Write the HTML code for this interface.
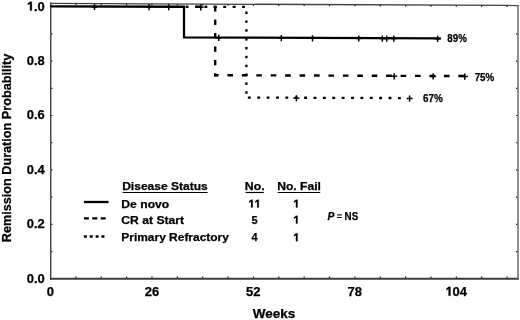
<!DOCTYPE html>
<html><head><meta charset="utf-8"><style>
html,body{margin:0;padding:0;background:#fff;width:520px;height:320px;overflow:hidden;}
svg{display:block;filter:grayscale(1);}
text{font-family:"Liberation Sans", sans-serif;font-weight:bold;fill:#000;stroke:#000;stroke-width:0.25px;}
</style></head><body>
<svg width="520" height="320" viewBox="0 0 520 320">
<line x1="50.70" y1="2.60" x2="50.70" y2="279.60" stroke="#4a4a4a" stroke-width="1.5"/>
<line x1="49.95" y1="278.85" x2="518.80" y2="278.85" stroke="#3c3c3c" stroke-width="2.0"/>
<line x1="50.00" y1="3.40" x2="518.80" y2="5.46" stroke="#404040" stroke-width="1.35"/>
<line x1="518.00" y1="4.96" x2="518.00" y2="279.60" stroke="#6a6a6a" stroke-width="1.5"/>
<line x1="75.86" y1="278.00" x2="75.86" y2="276.60" stroke="#222" stroke-width="1.2"/>
<line x1="75.86" y1="3.51" x2="75.86" y2="5.11" stroke="#222" stroke-width="1.2"/>
<line x1="101.23" y1="278.00" x2="101.23" y2="276.60" stroke="#222" stroke-width="1.2"/>
<line x1="101.23" y1="3.63" x2="101.23" y2="5.23" stroke="#222" stroke-width="1.2"/>
<line x1="126.59" y1="278.00" x2="126.59" y2="276.60" stroke="#222" stroke-width="1.2"/>
<line x1="126.59" y1="3.74" x2="126.59" y2="5.34" stroke="#222" stroke-width="1.2"/>
<line x1="151.96" y1="278.00" x2="151.96" y2="276.60" stroke="#222" stroke-width="1.2"/>
<line x1="151.96" y1="3.85" x2="151.96" y2="5.45" stroke="#222" stroke-width="1.2"/>
<line x1="177.32" y1="278.00" x2="177.32" y2="276.60" stroke="#222" stroke-width="1.2"/>
<line x1="177.32" y1="3.96" x2="177.32" y2="5.56" stroke="#222" stroke-width="1.2"/>
<line x1="202.69" y1="278.00" x2="202.69" y2="276.60" stroke="#222" stroke-width="1.2"/>
<line x1="202.69" y1="4.07" x2="202.69" y2="5.67" stroke="#222" stroke-width="1.2"/>
<line x1="228.05" y1="278.00" x2="228.05" y2="276.60" stroke="#222" stroke-width="1.2"/>
<line x1="228.05" y1="4.18" x2="228.05" y2="5.78" stroke="#222" stroke-width="1.2"/>
<line x1="253.42" y1="278.00" x2="253.42" y2="276.60" stroke="#222" stroke-width="1.2"/>
<line x1="253.42" y1="4.30" x2="253.42" y2="5.90" stroke="#222" stroke-width="1.2"/>
<line x1="278.78" y1="278.00" x2="278.78" y2="276.60" stroke="#222" stroke-width="1.2"/>
<line x1="278.78" y1="4.41" x2="278.78" y2="6.01" stroke="#222" stroke-width="1.2"/>
<line x1="304.15" y1="278.00" x2="304.15" y2="276.60" stroke="#222" stroke-width="1.2"/>
<line x1="304.15" y1="4.52" x2="304.15" y2="6.12" stroke="#222" stroke-width="1.2"/>
<line x1="329.51" y1="278.00" x2="329.51" y2="276.60" stroke="#222" stroke-width="1.2"/>
<line x1="329.51" y1="4.63" x2="329.51" y2="6.23" stroke="#222" stroke-width="1.2"/>
<line x1="354.88" y1="278.00" x2="354.88" y2="276.60" stroke="#222" stroke-width="1.2"/>
<line x1="354.88" y1="4.74" x2="354.88" y2="6.34" stroke="#222" stroke-width="1.2"/>
<line x1="380.25" y1="278.00" x2="380.25" y2="276.60" stroke="#222" stroke-width="1.2"/>
<line x1="380.25" y1="4.85" x2="380.25" y2="6.45" stroke="#222" stroke-width="1.2"/>
<line x1="405.61" y1="278.00" x2="405.61" y2="276.60" stroke="#222" stroke-width="1.2"/>
<line x1="405.61" y1="4.96" x2="405.61" y2="6.56" stroke="#222" stroke-width="1.2"/>
<line x1="430.97" y1="278.00" x2="430.97" y2="276.60" stroke="#222" stroke-width="1.2"/>
<line x1="430.97" y1="5.08" x2="430.97" y2="6.68" stroke="#222" stroke-width="1.2"/>
<line x1="456.34" y1="278.00" x2="456.34" y2="276.60" stroke="#222" stroke-width="1.2"/>
<line x1="456.34" y1="5.19" x2="456.34" y2="6.79" stroke="#222" stroke-width="1.2"/>
<line x1="481.70" y1="278.00" x2="481.70" y2="276.60" stroke="#222" stroke-width="1.2"/>
<line x1="481.70" y1="5.30" x2="481.70" y2="6.90" stroke="#222" stroke-width="1.2"/>
<line x1="507.07" y1="278.00" x2="507.07" y2="276.60" stroke="#222" stroke-width="1.2"/>
<line x1="507.07" y1="5.41" x2="507.07" y2="7.01" stroke="#222" stroke-width="1.2"/>
<line x1="51.00" y1="251.63" x2="52.40" y2="251.63" stroke="#222" stroke-width="1.2"/>
<line x1="517.40" y1="251.63" x2="516.00" y2="251.63" stroke="#222" stroke-width="1.2"/>
<line x1="51.00" y1="224.40" x2="52.40" y2="224.40" stroke="#222" stroke-width="1.2"/>
<line x1="517.40" y1="224.40" x2="516.00" y2="224.40" stroke="#222" stroke-width="1.2"/>
<line x1="51.00" y1="197.18" x2="52.40" y2="197.18" stroke="#222" stroke-width="1.2"/>
<line x1="517.40" y1="197.18" x2="516.00" y2="197.18" stroke="#222" stroke-width="1.2"/>
<line x1="51.00" y1="169.95" x2="52.40" y2="169.95" stroke="#222" stroke-width="1.2"/>
<line x1="517.40" y1="169.95" x2="516.00" y2="169.95" stroke="#222" stroke-width="1.2"/>
<line x1="51.00" y1="142.73" x2="52.40" y2="142.73" stroke="#222" stroke-width="1.2"/>
<line x1="517.40" y1="142.73" x2="516.00" y2="142.73" stroke="#222" stroke-width="1.2"/>
<line x1="51.00" y1="115.50" x2="52.40" y2="115.50" stroke="#222" stroke-width="1.2"/>
<line x1="517.40" y1="115.50" x2="516.00" y2="115.50" stroke="#222" stroke-width="1.2"/>
<line x1="51.00" y1="88.28" x2="52.40" y2="88.28" stroke="#222" stroke-width="1.2"/>
<line x1="517.40" y1="88.28" x2="516.00" y2="88.28" stroke="#222" stroke-width="1.2"/>
<line x1="51.00" y1="61.05" x2="52.40" y2="61.05" stroke="#222" stroke-width="1.2"/>
<line x1="517.40" y1="61.05" x2="516.00" y2="61.05" stroke="#222" stroke-width="1.2"/>
<line x1="51.00" y1="33.83" x2="52.40" y2="33.83" stroke="#222" stroke-width="1.2"/>
<line x1="517.40" y1="33.83" x2="516.00" y2="33.83" stroke="#222" stroke-width="1.2"/>
<polyline points="50.5,6.40 184.0,6.76 184.0,37.28 440.8,38.36" fill="none" stroke="#000" stroke-width="2.3"/>
<line x1="195.60" y1="6.79" x2="201.20" y2="6.81" stroke="#000" stroke-width="2.4"/>
<line x1="213.60" y1="6.84" x2="216.40" y2="6.85" stroke="#000" stroke-width="2.4"/>
<line x1="215.20" y1="6.10" x2="215.20" y2="11.50" stroke="#000" stroke-width="2.4"/>
<line x1="215.20" y1="19.54" x2="215.20" y2="24.94" stroke="#000" stroke-width="2.4"/>
<line x1="215.20" y1="32.98" x2="215.20" y2="38.38" stroke="#000" stroke-width="2.4"/>
<line x1="215.20" y1="46.42" x2="215.20" y2="51.82" stroke="#000" stroke-width="2.4"/>
<line x1="215.20" y1="59.86" x2="215.20" y2="65.26" stroke="#000" stroke-width="2.4"/>
<line x1="215.20" y1="73.30" x2="215.20" y2="76.40" stroke="#000" stroke-width="2.4"/>
<line x1="214.00" y1="75.19" x2="218.60" y2="75.21" stroke="#000" stroke-width="2.4"/>
<line x1="227.43" y1="75.24" x2="233.03" y2="75.26" stroke="#000" stroke-width="2.4"/>
<line x1="241.86" y1="75.29" x2="247.46" y2="75.31" stroke="#000" stroke-width="2.4"/>
<line x1="256.29" y1="75.34" x2="261.89" y2="75.36" stroke="#000" stroke-width="2.4"/>
<line x1="270.72" y1="75.39" x2="276.32" y2="75.41" stroke="#000" stroke-width="2.4"/>
<line x1="285.15" y1="75.44" x2="290.75" y2="75.46" stroke="#000" stroke-width="2.4"/>
<line x1="299.58" y1="75.49" x2="305.18" y2="75.51" stroke="#000" stroke-width="2.4"/>
<line x1="314.01" y1="75.54" x2="319.61" y2="75.56" stroke="#000" stroke-width="2.4"/>
<line x1="328.44" y1="75.59" x2="334.04" y2="75.61" stroke="#000" stroke-width="2.4"/>
<line x1="342.87" y1="75.64" x2="348.47" y2="75.66" stroke="#000" stroke-width="2.4"/>
<line x1="357.30" y1="75.69" x2="362.90" y2="75.71" stroke="#000" stroke-width="2.4"/>
<line x1="371.73" y1="75.74" x2="377.33" y2="75.76" stroke="#000" stroke-width="2.4"/>
<line x1="386.16" y1="75.79" x2="391.76" y2="75.81" stroke="#000" stroke-width="2.4"/>
<line x1="400.59" y1="75.85" x2="406.19" y2="75.86" stroke="#000" stroke-width="2.4"/>
<line x1="415.02" y1="75.90" x2="420.62" y2="75.92" stroke="#000" stroke-width="2.4"/>
<line x1="429.45" y1="75.95" x2="435.05" y2="75.97" stroke="#000" stroke-width="2.4"/>
<line x1="443.88" y1="76.00" x2="449.48" y2="76.02" stroke="#000" stroke-width="2.4"/>
<line x1="458.31" y1="76.05" x2="463.91" y2="76.07" stroke="#000" stroke-width="2.4"/>
<line x1="185.65" y1="6.77" x2="188.55" y2="6.77" stroke="#000" stroke-width="2.3"/>
<line x1="195.05" y1="6.79" x2="197.95" y2="6.80" stroke="#000" stroke-width="2.3"/>
<line x1="204.45" y1="6.82" x2="207.35" y2="6.82" stroke="#000" stroke-width="2.3"/>
<line x1="213.85" y1="6.84" x2="216.75" y2="6.85" stroke="#000" stroke-width="2.3"/>
<line x1="223.25" y1="6.87" x2="226.15" y2="6.88" stroke="#000" stroke-width="2.3"/>
<line x1="232.65" y1="6.89" x2="235.55" y2="6.90" stroke="#000" stroke-width="2.3"/>
<line x1="242.05" y1="6.92" x2="244.95" y2="6.93" stroke="#000" stroke-width="2.3"/>
<line x1="246.40" y1="11.50" x2="246.40" y2="14.00" stroke="#000" stroke-width="2.3"/>
<line x1="246.40" y1="20.36" x2="246.40" y2="22.86" stroke="#000" stroke-width="2.3"/>
<line x1="246.40" y1="29.22" x2="246.40" y2="31.72" stroke="#000" stroke-width="2.3"/>
<line x1="246.40" y1="38.08" x2="246.40" y2="40.58" stroke="#000" stroke-width="2.3"/>
<line x1="246.40" y1="46.94" x2="246.40" y2="49.44" stroke="#000" stroke-width="2.3"/>
<line x1="246.40" y1="55.80" x2="246.40" y2="58.30" stroke="#000" stroke-width="2.3"/>
<line x1="246.40" y1="64.66" x2="246.40" y2="67.16" stroke="#000" stroke-width="2.3"/>
<line x1="246.40" y1="73.52" x2="246.40" y2="76.02" stroke="#000" stroke-width="2.3"/>
<line x1="246.40" y1="82.38" x2="246.40" y2="84.88" stroke="#000" stroke-width="2.3"/>
<line x1="246.40" y1="91.24" x2="246.40" y2="93.74" stroke="#000" stroke-width="2.3"/>
<line x1="247.85" y1="97.59" x2="250.75" y2="97.60" stroke="#000" stroke-width="2.3"/>
<line x1="257.23" y1="97.62" x2="260.13" y2="97.62" stroke="#000" stroke-width="2.3"/>
<line x1="266.61" y1="97.64" x2="269.51" y2="97.65" stroke="#000" stroke-width="2.3"/>
<line x1="275.99" y1="97.67" x2="278.89" y2="97.68" stroke="#000" stroke-width="2.3"/>
<line x1="285.37" y1="97.70" x2="288.27" y2="97.71" stroke="#000" stroke-width="2.3"/>
<line x1="294.75" y1="97.73" x2="297.65" y2="97.74" stroke="#000" stroke-width="2.3"/>
<line x1="304.13" y1="97.76" x2="307.03" y2="97.77" stroke="#000" stroke-width="2.3"/>
<line x1="313.51" y1="97.78" x2="316.41" y2="97.79" stroke="#000" stroke-width="2.3"/>
<line x1="322.89" y1="97.81" x2="325.79" y2="97.82" stroke="#000" stroke-width="2.3"/>
<line x1="332.27" y1="97.84" x2="335.17" y2="97.85" stroke="#000" stroke-width="2.3"/>
<line x1="341.65" y1="97.87" x2="344.55" y2="97.88" stroke="#000" stroke-width="2.3"/>
<line x1="351.03" y1="97.90" x2="353.93" y2="97.91" stroke="#000" stroke-width="2.3"/>
<line x1="360.41" y1="97.93" x2="363.31" y2="97.93" stroke="#000" stroke-width="2.3"/>
<line x1="369.79" y1="97.95" x2="372.69" y2="97.96" stroke="#000" stroke-width="2.3"/>
<line x1="379.17" y1="97.98" x2="382.07" y2="97.99" stroke="#000" stroke-width="2.3"/>
<line x1="388.55" y1="98.01" x2="391.45" y2="98.02" stroke="#000" stroke-width="2.3"/>
<line x1="397.93" y1="98.04" x2="400.83" y2="98.05" stroke="#000" stroke-width="2.3"/>
<line x1="94.50" y1="3.92" x2="94.50" y2="10.12" stroke="#000" stroke-width="1.5"/>
<line x1="91.50" y1="6.92" x2="97.50" y2="6.92" stroke="#000" stroke-width="1.5"/>
<line x1="149.00" y1="4.07" x2="149.00" y2="10.27" stroke="#000" stroke-width="1.5"/>
<line x1="146.00" y1="7.07" x2="152.00" y2="7.07" stroke="#000" stroke-width="1.5"/>
<line x1="168.70" y1="4.12" x2="168.70" y2="10.32" stroke="#000" stroke-width="1.5"/>
<line x1="165.70" y1="7.12" x2="171.70" y2="7.12" stroke="#000" stroke-width="1.5"/>
<line x1="200.80" y1="4.21" x2="200.80" y2="10.41" stroke="#000" stroke-width="1.5"/>
<line x1="197.80" y1="7.21" x2="203.80" y2="7.21" stroke="#000" stroke-width="1.5"/>
<line x1="218.75" y1="34.83" x2="218.75" y2="41.03" stroke="#000" stroke-width="1.5"/>
<line x1="215.75" y1="37.83" x2="221.75" y2="37.83" stroke="#000" stroke-width="1.5"/>
<line x1="281.30" y1="35.09" x2="281.30" y2="41.29" stroke="#000" stroke-width="1.5"/>
<line x1="278.30" y1="38.09" x2="284.30" y2="38.09" stroke="#000" stroke-width="1.5"/>
<line x1="312.50" y1="35.22" x2="312.50" y2="41.42" stroke="#000" stroke-width="1.5"/>
<line x1="309.50" y1="38.22" x2="315.50" y2="38.22" stroke="#000" stroke-width="1.5"/>
<line x1="358.80" y1="35.42" x2="358.80" y2="41.62" stroke="#000" stroke-width="1.5"/>
<line x1="355.80" y1="38.42" x2="361.80" y2="38.42" stroke="#000" stroke-width="1.5"/>
<line x1="382.30" y1="35.52" x2="382.30" y2="41.72" stroke="#000" stroke-width="1.5"/>
<line x1="379.30" y1="38.52" x2="385.30" y2="38.52" stroke="#000" stroke-width="1.5"/>
<line x1="386.70" y1="35.53" x2="386.70" y2="41.73" stroke="#000" stroke-width="1.5"/>
<line x1="383.70" y1="38.53" x2="389.70" y2="38.53" stroke="#000" stroke-width="1.5"/>
<line x1="393.80" y1="35.56" x2="393.80" y2="41.76" stroke="#000" stroke-width="1.5"/>
<line x1="390.80" y1="38.56" x2="396.80" y2="38.56" stroke="#000" stroke-width="1.5"/>
<line x1="437.60" y1="35.75" x2="437.60" y2="41.95" stroke="#000" stroke-width="1.5"/>
<line x1="434.60" y1="38.75" x2="440.60" y2="38.75" stroke="#000" stroke-width="1.5"/>
<line x1="394.20" y1="73.22" x2="394.20" y2="79.42" stroke="#000" stroke-width="1.5"/>
<line x1="391.20" y1="76.22" x2="397.20" y2="76.22" stroke="#000" stroke-width="1.5"/>
<line x1="433.20" y1="73.36" x2="433.20" y2="79.56" stroke="#000" stroke-width="1.5"/>
<line x1="430.20" y1="76.36" x2="436.20" y2="76.36" stroke="#000" stroke-width="1.5"/>
<line x1="464.80" y1="73.47" x2="464.80" y2="79.67" stroke="#000" stroke-width="1.5"/>
<line x1="461.80" y1="76.47" x2="467.80" y2="76.47" stroke="#000" stroke-width="1.5"/>
<line x1="296.40" y1="95.13" x2="296.40" y2="101.33" stroke="#000" stroke-width="1.5"/>
<line x1="293.40" y1="98.13" x2="299.40" y2="98.13" stroke="#000" stroke-width="1.5"/>
<line x1="409.60" y1="95.47" x2="409.60" y2="101.67" stroke="#000" stroke-width="1.5"/>
<line x1="406.60" y1="98.47" x2="412.60" y2="98.47" stroke="#000" stroke-width="1.5"/>
<text x="447.3" y="42.1" font-size="10.3" textLength="19.5" lengthAdjust="spacingAndGlyphs">89%</text>
<text x="474.7" y="80.7" font-size="10.3" textLength="19.5" lengthAdjust="spacingAndGlyphs">75%</text>
<text x="422.9" y="101.9" font-size="10.3" textLength="19.8" lengthAdjust="spacingAndGlyphs">67%</text>
<text x="44.8" y="282.80" font-size="12.5" text-anchor="end" textLength="18.0" lengthAdjust="spacingAndGlyphs">0.0</text>
<text x="44.8" y="228.35" font-size="12.5" text-anchor="end" textLength="18.0" lengthAdjust="spacingAndGlyphs">0.2</text>
<text x="44.8" y="173.90" font-size="12.5" text-anchor="end" textLength="18.0" lengthAdjust="spacingAndGlyphs">0.4</text>
<text x="44.8" y="119.45" font-size="12.5" text-anchor="end" textLength="18.0" lengthAdjust="spacingAndGlyphs">0.6</text>
<text x="44.8" y="65.00" font-size="12.5" text-anchor="end" textLength="18.0" lengthAdjust="spacingAndGlyphs">0.8</text>
<polygon points="29.96,10.55 29.96,3.65 27.81,5.06 27.81,3.29 30.09,1.64 31.86,1.64 31.86,10.55" fill="#000" stroke="#000" stroke-width="0.25"/>
<text x="34.00" y="10.55" font-size="12.5" textLength="10.80" lengthAdjust="spacingAndGlyphs">.0</text>
<text x="50.50" y="295.7" font-size="12.5" text-anchor="middle" textLength="7.23" lengthAdjust="spacingAndGlyphs">0</text>
<text x="151.94" y="295.7" font-size="12.5" text-anchor="middle" textLength="14.46" lengthAdjust="spacingAndGlyphs">26</text>
<text x="253.37" y="295.7" font-size="12.5" text-anchor="middle" textLength="14.46" lengthAdjust="spacingAndGlyphs">52</text>
<text x="354.81" y="295.7" font-size="12.5" text-anchor="middle" textLength="14.46" lengthAdjust="spacingAndGlyphs">78</text>
<polygon points="448.58,295.70 448.58,288.80 446.42,290.21 446.42,288.44 448.70,286.79 450.48,286.79 450.48,295.70" fill="#000" stroke="#000" stroke-width="0.25"/>
<text x="452.63" y="295.7" font-size="12.5" textLength="14.46" lengthAdjust="spacingAndGlyphs">04</text>
<text x="274" y="318.4" font-size="12.8" text-anchor="middle" textLength="42.6" lengthAdjust="spacingAndGlyphs">Weeks</text>
<text transform="translate(11.3,148) rotate(-90)" x="0" y="0" font-size="12" text-anchor="middle" textLength="188.5" lengthAdjust="spacingAndGlyphs">Remission Duration Probability</text>
<text x="122.2" y="190.3" font-size="11" textLength="85.6" lengthAdjust="spacingAndGlyphs">Disease Status</text>
<text x="244.8" y="190.3" font-size="11" textLength="19.8" lengthAdjust="spacingAndGlyphs">No.</text>
<text x="277.2" y="190.3" font-size="11" textLength="43.8" lengthAdjust="spacingAndGlyphs">No. Fail</text>
<line x1="122.60" y1="192.50" x2="207.60" y2="192.50" stroke="#000" stroke-width="1.2"/>
<line x1="245.60" y1="192.50" x2="263.80" y2="192.50" stroke="#000" stroke-width="1.2"/>
<line x1="277.70" y1="192.50" x2="320.20" y2="192.50" stroke="#000" stroke-width="1.2"/>
<text x="121.3" y="207.5" font-size="11" textLength="48.0" lengthAdjust="spacingAndGlyphs">De novo</text>
<polygon points="251.07,207.50 251.07,201.43 249.24,202.67 249.24,201.11 251.18,199.66 252.68,199.66 252.68,207.50" fill="#000" stroke="#000" stroke-width="0.25"/>
<polygon points="257.19,207.50 257.19,201.43 255.36,202.67 255.36,201.11 257.29,199.66 258.80,199.66 258.80,207.50" fill="#000" stroke="#000" stroke-width="0.25"/>
<polygon points="295.93,207.50 295.93,201.43 294.10,202.67 294.10,201.11 296.03,199.66 297.54,199.66 297.54,207.50" fill="#000" stroke="#000" stroke-width="0.25"/>
<line x1="83.9" y1="202.0" x2="108.5" y2="202.0" stroke="#000" stroke-width="2.3"/>
<text x="121.3" y="223.6" font-size="11" textLength="62.8" lengthAdjust="spacingAndGlyphs">CR at Start</text>
<text x="254.5" y="223.6" font-size="11" text-anchor="middle">5</text>
<polygon points="295.93,223.60 295.93,217.53 294.10,218.77 294.10,217.21 296.03,215.76 297.54,215.76 297.54,223.60" fill="#000" stroke="#000" stroke-width="0.25"/>
<line x1="83.9" y1="218.4" x2="106.0" y2="218.4" stroke="#000" stroke-width="2.4" stroke-dasharray="5 3.4"/>
<text x="121.3" y="241.2" font-size="11" textLength="107.6" lengthAdjust="spacingAndGlyphs">Primary Refractory</text>
<text x="254.5" y="241.2" font-size="11" text-anchor="middle">4</text>
<polygon points="295.93,241.20 295.93,235.13 294.10,236.37 294.10,234.81 296.03,233.36 297.54,233.36 297.54,241.20" fill="#000" stroke="#000" stroke-width="0.25"/>
<line x1="83.9" y1="236.4" x2="104.7" y2="236.4" stroke="#000" stroke-width="2.5" stroke-dasharray="3 2.85"/>
<text x="327.6" y="219.7" font-size="10.3" font-style="italic">P</text>
<line x1="337.10" y1="214.90" x2="341.90" y2="214.90" stroke="#000" stroke-width="1.1"/>
<line x1="337.10" y1="217.50" x2="341.90" y2="217.50" stroke="#000" stroke-width="1.1"/>
<text x="344.6" y="219.7" font-size="10.3" textLength="13.6" lengthAdjust="spacingAndGlyphs">NS</text>
</svg>
</body></html>
